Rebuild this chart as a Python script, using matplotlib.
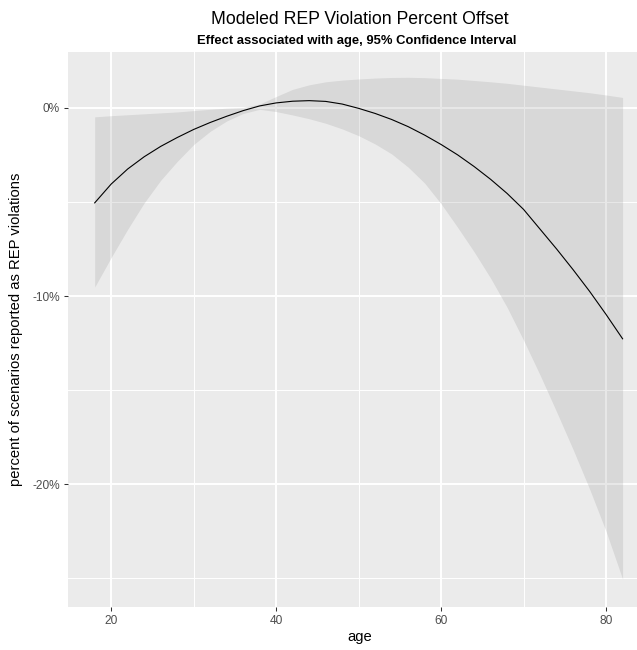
import matplotlib
matplotlib.use("Agg")
import matplotlib.pyplot as plt

plt.rcParams['font.family'] = ['Liberation Sans', 'DejaVu Sans']

# modeled offset by age, with 95% confidence band (percent)
age = [18, 20, 22, 24, 26, 28, 30, 32, 34, 36, 38, 40, 42, 44, 46, 48, 50,
       52, 54, 56, 58, 60, 62, 64, 66, 68, 70, 72, 74, 76, 78, 80, 82]
fit = [-5.05, -4.05, -3.25, -2.60, -2.05, -1.58, -1.15, -0.78, -0.45, -0.15,
       0.10, 0.26, 0.35, 0.38, 0.34, 0.20, -0.03, -0.30, -0.62, -1.00, -1.45,
       -1.95, -2.50, -3.12, -3.80, -4.55, -5.40, -6.45, -7.50, -8.60, -9.75,
       -10.98, -12.27]
upper = [-0.48, -0.42, -0.37, -0.32, -0.27, -0.22, -0.15, -0.08, -0.02, 0.02,
         0.20, 0.60, 0.98, 1.22, 1.38, 1.47, 1.53, 1.58, 1.61, 1.62, 1.60,
         1.56, 1.52, 1.45, 1.38, 1.30, 1.20, 1.10, 1.00, 0.90, 0.80, 0.68, 0.55]
lower = [-9.52, -7.95, -6.45, -5.05, -3.85, -2.85, -1.95, -1.25, -0.70, -0.30,
         -0.08, -0.20, -0.38, -0.58, -0.82, -1.12, -1.48, -1.92, -2.45, -3.15,
         -4.00, -5.10, -6.35, -7.65, -9.05, -10.60, -12.35, -14.20, -16.15,
         -18.15, -20.25, -22.50, -25.03]

x_major = [20, 40, 60, 80]
x_minor = [30, 50, 70]
y_major = [0, -10, -20]
y_minor = [-5, -15, -25]
y_labels = ['0%', '-10%', '-20%']

W, H = 637, 650
fig = plt.figure(figsize=(W / 100, H / 100), dpi=100)

# panel in pixels (the right part runs past the picture edge)
p_left, p_right, p_top, p_bottom = 68.3, 649.0, 51.7, 606.7
ax = fig.add_axes([p_left / W, 1 - p_bottom / H,
                   (p_right - p_left) / W, (p_bottom - p_top) / H])
ax.set_facecolor('#EBEBEB')
for s in ax.spines.values():
    s.set_visible(False)

ax.fill_between(age, lower, upper, color='#8c8c8c', alpha=0.2,
                linewidth=0, zorder=2)
ax.plot(age, fit, color='black', lw=0.8, zorder=3)

ax.set_xlim(14.8, 85.2)
ax.set_ylim(-26.5, 2.98)
ax.set_xticks(x_major)
ax.set_xticks(x_minor, minor=True)
ax.set_yticks(y_major)
ax.set_yticklabels(y_labels)
ax.set_yticks(y_minor, minor=True)

ax.set_axisbelow(True)
ax.grid(which='major', color='white', lw=1.4)
ax.grid(which='minor', color='white', lw=0.7)
ax.tick_params(which='major', length=2.7, width=0.75, color='#333333',
               labelsize=8.6, labelcolor='#4D4D4D', pad=3.3)
ax.tick_params(which='minor', length=0)

fig.text(359.5 / W, 1 - 23.5 / H, 'Modeled REP Violation Percent Offset',
         ha='center', va='baseline', fontsize=12.7)
fig.text(357 / W, 1 - 44 / H,
         'Effect associated with age, 95% Confidence Interval',
         ha='center', va='baseline', fontsize=9.4, weight='bold')
fig.text(359.5 / W, 1 - 641 / H, 'age', ha='center', va='baseline',
         fontsize=10.6)
fig.text(16 / W, 1 - 329 / H, 'percent of scenarios reported as REP violations',
         ha='center', va='center', rotation=90, fontsize=10.6)

fig.savefig('out.png', dpi=100)
